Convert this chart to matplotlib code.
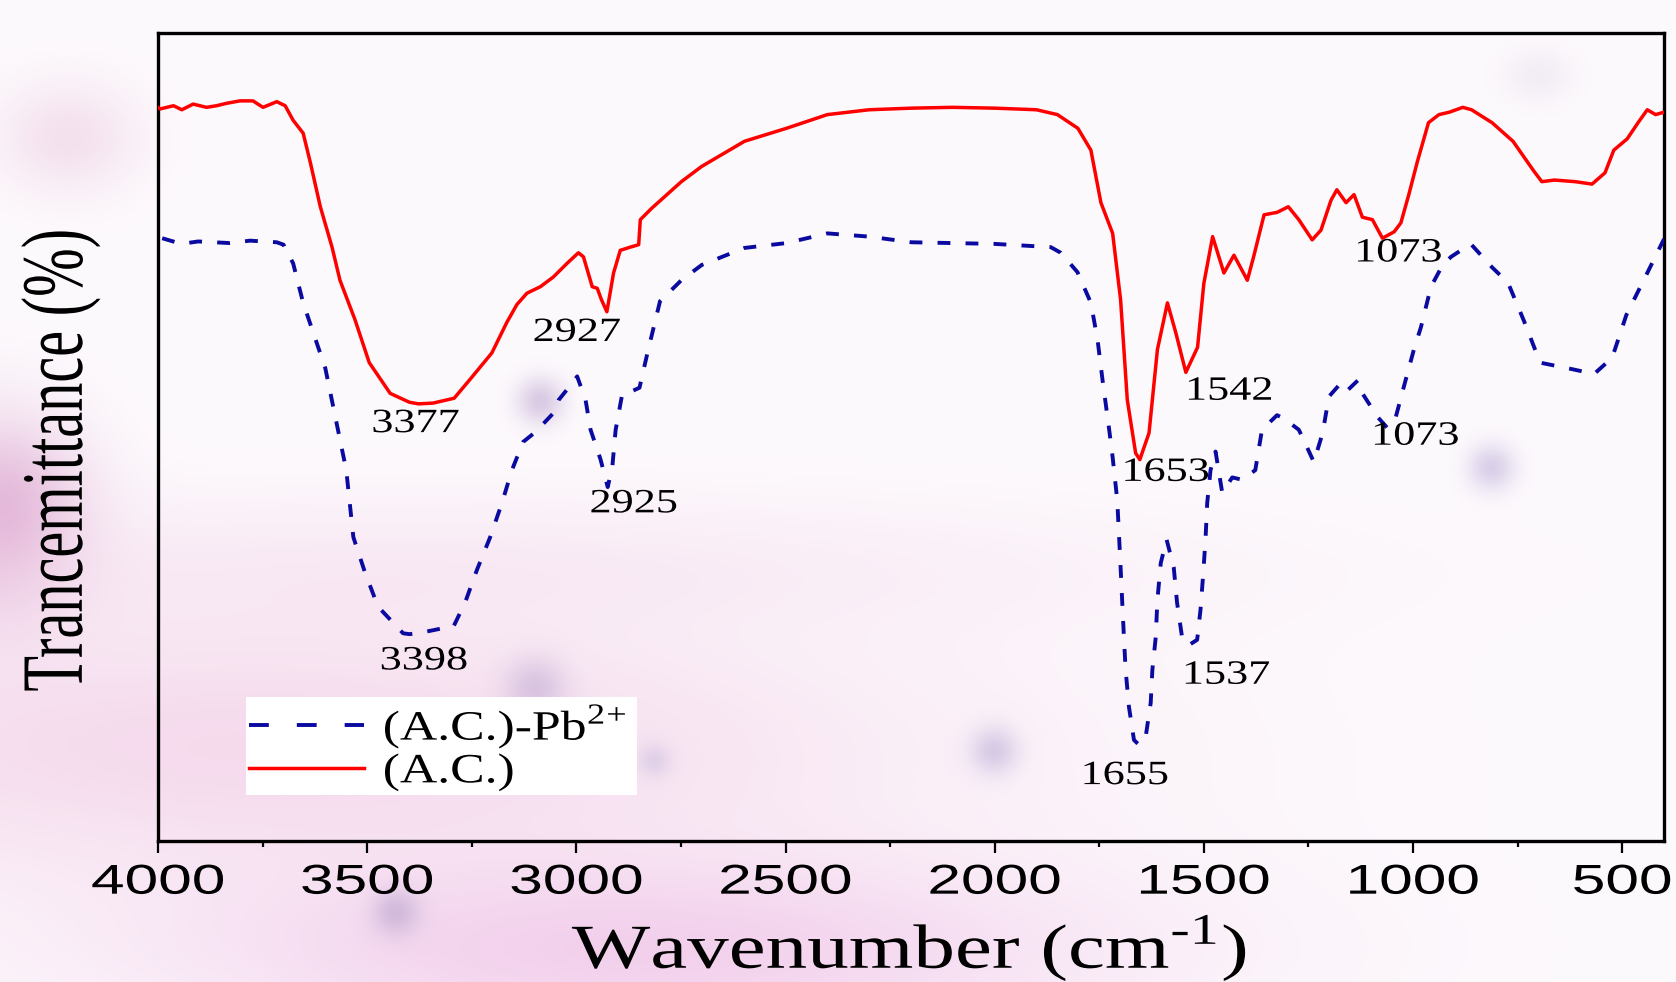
import numpy as np
import matplotlib
matplotlib.use("Agg")
import matplotlib.pyplot as plt
from matplotlib import patches, ticker
from matplotlib.lines import Line2D
from matplotlib.patheffects import AbstractPathEffect
from matplotlib.transforms import Affine2D

plt.rcParams['font.family'] = ['Liberation Serif', 'DejaVu Serif']
plt.rcParams['mathtext.fontset'] = 'custom'
plt.rcParams['mathtext.rm'] = 'Liberation Serif'

# (A.C.) spectrum
wn_ac = [4000, 3995, 3963, 3943, 3916, 3884, 3860, 3836, 3804, 3773, 3749, 3716, 3696,
         3677, 3653, 3636, 3612, 3584, 3565, 3529, 3495, 3445, 3399, 3377, 3342, 3292,
         3253, 3202, 3166, 3142, 3118, 3086, 3055, 3022, 2995, 2983, 2962, 2950, 2940,
         2927, 2911, 2895, 2871, 2851, 2847, 2820, 2749, 2700, 2598, 2498, 2400, 2300,
         2199, 2100, 2000, 1900, 1850, 1801, 1770, 1746, 1718, 1699, 1683, 1663, 1653,
         1631, 1611, 1587, 1567, 1543, 1515, 1500, 1479, 1452, 1428, 1396, 1381, 1356,
         1325, 1298, 1273, 1241, 1220, 1196, 1182, 1160, 1141, 1121, 1097, 1073, 1045,
         1029, 1010, 990, 963, 938, 913, 881, 860, 811, 761, 711, 692, 662, 612, 572,
         541, 520, 488, 462, 440, 420, 400]
t_ac = [90.8, 90.6, 91.0, 90.5, 91.2, 90.8, 91.0, 91.3, 91.6, 91.6, 90.8, 91.5, 91.0,
        89.2, 87.6, 84.0, 78.5, 73.5, 69.4, 64.5, 59.2, 55.4, 54.3, 54.1, 54.2, 54.8,
        57.2, 60.4, 64.2, 66.4, 67.8, 68.6, 69.8, 71.5, 72.8, 72.3, 68.6, 68.4, 67.0,
        65.5, 70.3, 73.1, 73.5, 73.8, 76.9, 78.3, 81.6, 83.5, 86.6, 88.2, 89.9, 90.5,
        90.7, 90.8, 90.7, 90.5, 89.9, 88.2, 85.5, 79.0, 75.2, 67.0, 54.6, 48.0, 47.2,
        50.5, 60.8, 66.6, 62.9, 58.0, 61.1, 69.0, 74.8, 70.3, 72.5, 69.4, 72.3, 77.5,
        77.8, 78.5, 76.9, 74.4, 75.6, 79.3, 80.6, 79.0, 80.0, 77.2, 76.9, 74.6, 75.4,
        76.5, 80.0, 84.0, 88.9, 89.9, 90.2, 90.8, 90.5, 88.9, 86.6, 82.9, 81.6, 81.8,
        81.6, 81.3, 82.7, 85.5, 86.9, 88.9, 90.5, 89.9, 90.2]

# (A.C.)-Pb2+ spectrum
wn_pb = [3990, 3944, 3904, 3828, 3780, 3716, 3700, 3677, 3653, 3600, 3550, 3533, 3505,
         3474, 3414, 3398, 3360, 3313, 3294, 3266, 3238, 3206, 3178, 3154, 3127, 3098,
         3054, 3042, 3014, 2998, 2978, 2966, 2942, 2925, 2914, 2906, 2890, 2870, 2849,
         2830, 2800, 2749, 2700, 2598, 2498, 2400, 2300, 2199, 2000, 1900, 1866, 1842,
         1802, 1770, 1754, 1742, 1727, 1718, 1707, 1703, 1699, 1695, 1691, 1687, 1679,
         1667, 1655, 1639, 1627, 1623, 1615, 1611, 1603, 1589, 1572, 1564, 1552, 1537,
         1516, 1508, 1502, 1496, 1492, 1484, 1472, 1456, 1432, 1408, 1377, 1361, 1325,
         1309, 1273, 1261, 1237, 1216, 1201, 1172, 1156, 1132, 1121, 1085, 1061, 1041,
         1022, 998, 981, 957, 929, 909, 862, 811, 773, 735, 696, 620, 567, 524, 490,
         440, 400]
t_pb = [74.6, 73.9, 74.2, 74.0, 74.3, 74.1, 73.8, 71.5, 66.6, 58.5, 45.9, 37.6, 33.2,
        29.0, 25.7, 25.6, 25.9, 26.4, 26.5, 29.5, 33.5, 37.6, 41.8, 45.9, 49.4, 50.6,
        53.0, 54.6, 56.4, 57.5, 54.6, 50.9, 47.2, 43.8, 46.3, 50.9, 55.4, 55.6, 56.1,
        60.4, 66.8, 69.4, 71.3, 73.4, 74.0, 75.2, 74.8, 74.1, 73.9, 73.6, 73.5, 72.8,
        70.4, 66.6, 62.0, 57.0, 51.2, 47.5, 42.2, 38.1, 33.9, 29.5, 25.2, 21.2, 16.6,
        12.5, 11.9, 12.9, 17.1, 21.2, 25.2, 29.8, 34.4, 37.3, 33.9, 29.5, 25.2, 24.2,
        24.9, 28.6, 32.7, 37.3, 41.8, 45.9, 48.2, 43.1, 45.0, 44.7, 45.9, 50.9, 52.7,
        52.3, 50.9, 49.6, 46.9, 50.5, 55.0, 56.7, 55.8, 57.0, 55.4, 52.5, 51.1, 52.5,
        56.2, 60.8, 63.6, 68.6, 71.3, 72.3, 73.9, 71.0, 69.1, 64.4, 59.2, 58.4, 57.8,
        59.8, 65.1, 70.3, 74.5]

peaks_ac = [3377, 2927, 1653, 1542, 1073]
peaks_pb = [3398, 2925, 1655, 1537, 1073]

xticks = [4000, 3500, 3000, 2500, 2000, 1500, 1000, 500]

RED = '#ff0000'
BLUE = '#0a0aa0'


class Widen(AbstractPathEffect):
    # the source picture is stretched sideways, so stretch the glyphs the same way
    def __init__(self, sx, anchor='center'):
        super().__init__()
        self.sx = sx
        self.anchor = anchor

    def draw_path(self, renderer, gc, tpath, affine, rgbFace=None):
        ext = tpath.get_extents(affine)
        x0 = ext.x0 if self.anchor == 'left' else 0.5 * (ext.x0 + ext.x1)
        tr = affine + Affine2D().translate(-x0, 0).scale(self.sx, 1).translate(x0, 0)
        renderer.draw_path(gc, tpath, tr, rgbFace)


fig = plt.figure(figsize=(16.76, 9.82), dpi=100)

# soft pink backdrop with a few blurred dots
bg = fig.add_axes([0, 0, 1, 1], zorder=-10)
yy, xx = np.mgrid[0:1:491j, 0:1:838j]
img = np.ones((491, 838, 3)) * np.array([253, 250, 253]) / 255.
blobs = [(0.0, 0.53, 0.035, 0.07, (222, 170, 210), 0.9),
         (0.15, 0.76, 0.28, 0.10, (240, 198, 226), 0.6),
         (0.25, 0.58, 0.30, 0.05, (244, 218, 236), 0.45),
         (0.38, 0.97, 0.20, 0.07, (236, 182, 226), 0.6),
         (0.04, 0.14, 0.03, 0.04, (238, 208, 228), 0.6),
         (0.918, 0.076, 0.015, 0.02, (236, 228, 240), 0.6),
         (0.322, 0.408, 0.010, 0.017, (212, 194, 224), 0.85),
         (0.319, 0.702, 0.013, 0.022, (212, 190, 222), 0.85),
         (0.593, 0.765, 0.010, 0.017, (208, 196, 226), 0.85),
         (0.890, 0.476, 0.010, 0.017, (212, 200, 230), 0.85),
         (0.390, 0.775, 0.007, 0.012, (214, 200, 228), 0.7),
         (0.236, 0.930, 0.010, 0.017, (200, 178, 214), 0.8)]
for cx, cy, sx, sy, col, a in blobs:
    w = a * np.exp(-((xx - cx) ** 2 / (2 * sx ** 2) + (yy - cy) ** 2 / (2 * sy ** 2)))
    img = img * (1 - w[..., None]) + np.array(col) / 255. * w[..., None]
bg.imshow(img, aspect='auto', interpolation='bilinear', extent=(0, 1, 0, 1))
bg.axis('off')

ax = fig.add_axes([158 / 1676, 1 - 841 / 982, 1506 / 1676, 808 / 982])
ax.set_facecolor('none')

ax.plot(wn_ac, t_ac, color=RED, lw=2.5, zorder=3)
ax.plot(wn_pb, t_pb, color=BLUE, lw=2.8, linestyle=(0, (3.3, 3.9)), zorder=3)

ax.set_xlim(4000, 400)
ax.set_ylim(0, 100)
ax.set_yticks([])
ax.xaxis.set_major_locator(ticker.FixedLocator(xticks))
ax.xaxis.set_minor_locator(ticker.MultipleLocator(250))
ax.tick_params(axis='x', which='major', direction='out', length=8.6, width=1.6,
               pad=7, labelsize=30, labelfontfamily='Liberation Sans')
ax.tick_params(axis='x', which='minor', direction='out', length=4.3, width=1.6)
for s in ax.spines.values():
    s.set_linewidth(2.4)

ax.set_xlabel('Wavenumber (cm$^{\u20101}$)', fontsize=45, va='center')
ax.xaxis.set_label_coords(0.499, -0.133)
ax.set_ylabel('Trancemittance (%)', fontsize=42, va='center')
ax.yaxis.set_label_coords(-0.0644, 0.4715)
ax.xaxis.label.set_path_effects([Widen(1.33)])
ax.yaxis.label.set_path_effects([Widen(1.5)])

# peak labels, offsets in pixels from the band minimum
off_ac = [(-3, -20), (-30, -21), (26, -13), (43, -20), (16, -15)]
off_pb = [(14, -27), (26, -17), (-14, -31), (38, -30), (33, -14)]
for peaks, wn, t, offs in [(peaks_ac, wn_ac, t_ac, off_ac), (peaks_pb, wn_pb, t_pb, off_pb)]:
    for p, (dx, dy) in zip(peaks, offs):
        yv = np.interp(p, wn[::-1], t[::-1])
        a = ax.annotate(str(p), (p, yv), xytext=(dx, dy), textcoords='offset pixels',
                        ha='center', va='center', fontsize=24.5, zorder=6)
        a.set_path_effects([Widen(1.3)])

# legend on a plain white card
ax.add_patch(patches.Rectangle((246 / 1676, 1 - 795 / 982), 391 / 1676, 98 / 982,
                               transform=fig.transFigure, facecolor='white',
                               edgecolor='none', zorder=4, clip_on=False))
h_pb = Line2D([], [], color=BLUE, lw=2.8, linestyle=(0, (5.1, 7.2)))
h_ac = Line2D([], [], color=RED, lw=2.5)
leg = ax.legend([h_pb, h_ac], ['(A.C.)-Pb$^{2\\!+}$', '(A.C.)'], loc='upper left',
                frameon=False, bbox_to_anchor=(249 / 1676, 1 - 703 / 982),
                bbox_transform=fig.transFigure, fontsize=30, handlelength=2.76,
                handletextpad=0.46, borderpad=0, borderaxespad=0, labelspacing=0.05)
leg.set_zorder(5)
for txt in leg.get_texts():
    txt.set_path_effects([Widen(1.24, anchor='left')])

fig.canvas.draw()
for lab in ax.get_xticklabels():
    lab.set_path_effects([Widen(1.45)])

fig.savefig('out.png', dpi=100)
